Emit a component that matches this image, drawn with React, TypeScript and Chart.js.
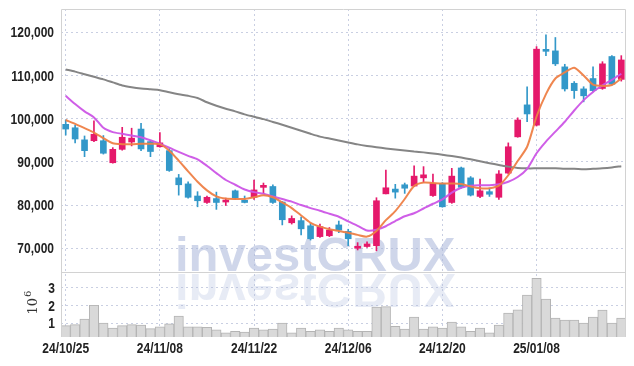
import React, { useEffect, useRef } from 'react';
import { Chart, registerables } from 'chart.js';

Chart.register(...registerables);

// ---- data ----
const dates = [
  '24/10/25', '24/10/28', '24/10/29', '24/10/30', '24/10/31', '24/11/01', '24/11/04', '24/11/05', '24/11/06', '24/11/07',
  '24/11/08', '24/11/11', '24/11/12', '24/11/13', '24/11/14', '24/11/15', '24/11/18', '24/11/19', '24/11/20', '24/11/21',
  '24/11/22', '24/11/25', '24/11/26', '24/11/27', '24/11/28', '24/11/29', '24/12/02', '24/12/03', '24/12/04', '24/12/05',
  '24/12/06', '24/12/09', '24/12/10', '24/12/11', '24/12/12', '24/12/13', '24/12/16', '24/12/17', '24/12/18', '24/12/19',
  '24/12/20', '24/12/23', '24/12/24', '24/12/26', '24/12/27', '24/12/30', '25/01/02', '25/01/03', '25/01/06', '25/01/07',
  '25/01/08', '25/01/09', '25/01/10', '25/01/13', '25/01/14', '25/01/15', '25/01/16', '25/01/17', '25/01/20', '25/01/21',
];

const opens = [
  98700, 97900, 95100, 94900, 94900, 89800, 92900, 94600, 97600, 94700,
  93500, 92600, 86300, 84900, 82100, 80600, 81500, 80700, 83300, 81100,
  81800, 84100, 84300, 80700, 75900, 76400, 75200, 72700, 72900, 75400,
  73900, 70000, 70400, 70600, 82600, 83700, 84700, 84400, 86300, 82200,
  85000, 80600, 88600, 86300, 82000, 83100, 81800, 87400, 95800, 103200,
  98500, 115900, 115700, 112000, 108200, 106900, 109300, 107000, 114400, 109100,
];
const highs = [
  99700, 98500, 96000, 99500, 96100, 93300, 98000, 97800, 98900, 94900,
  96800, 93100, 87100, 85400, 83100, 82100, 83000, 81600, 83500, 82100,
  85800, 85100, 84700, 80800, 77500, 77200, 75800, 75600, 74800, 76300,
  74400, 71300, 71500, 81700, 88100, 84800, 85100, 89100, 88900, 87200,
  85200, 88500, 88800, 86600, 86000, 83900, 88000, 94400, 100200, 107400,
  116700, 119400, 118800, 112600, 108600, 107400, 112000, 113200, 114600, 114600,
];
const lows = [
  96200, 94400, 91200, 94700, 91800, 89700, 92700, 93700, 92600, 91200,
  93400, 87800, 82300, 81600, 79600, 80400, 79000, 79900, 81300, 80500,
  81300, 82700, 80400, 75400, 75600, 73100, 71900, 72500, 72700, 73600,
  70600, 69600, 70200, 69400, 82600, 81600, 82700, 84300, 85200, 82000,
  79500, 80400, 83900, 82100, 81700, 82000, 81300, 87200, 95700, 99300,
  98300, 114600, 112300, 106400, 104700, 103900, 106200, 106800, 107800, 108700,
];
const closes = [
  97600, 95300, 92600, 96400, 92000, 92900, 95700, 95500, 93000, 92400,
  94400, 88000, 84700, 81800, 81000, 81800, 80600, 81100, 81700, 80600,
  83500, 84300, 80600, 76600, 76900, 74500, 72200, 75000, 74200, 74200,
  72200, 70200, 71000, 81000, 84000, 83000, 83900, 86700, 87000, 85000,
  79600, 86700, 84100, 82300, 83300, 82500, 87200, 93500, 99700, 101100,
  116100, 115600, 112700, 106900, 106500, 105300, 106500, 112700, 108000, 113600,
];

const ma5 = [
  99700, 98800, 97800, 96800, 95500, 94300, 94100, 94100, 94200, 94200,
  94100, 92600, 90300, 87800, 85400, 83400, 82000, 81500, 81400, 81400,
  81800, 82300, 81800, 80600, 79300, 77600, 75900, 75000, 74400, 74000,
  73600, 73100, 72700, 74000, 76500, 78600, 81400, 84400, 85200, 85100,
  85000, 85000, 84900, 84300, 83900, 83900, 84500, 86900, 90200, 93500,
  100500, 105700, 109300, 110700, 111800, 110000, 107900, 107600, 107800, 109300,
];
const ma20 = [
  105300, 103400, 101700, 100300, 97900, 96900, 96500, 96100, 95700, 95000,
  94200, 93300, 92300, 91400, 90600, 89100, 87400, 85800, 84700, 83600,
  83000, 82600, 82000, 81400, 80800, 80000, 79300, 78700, 78000, 77300,
  76200, 75200, 74100, 74300, 75100, 76300, 77400, 78100, 79200, 80300,
  81300, 82900, 84000, 84500, 84600, 84600, 84800, 85400, 86500, 88400,
  92000, 94700, 97000, 99300, 101900, 104300, 106200, 107700, 109000, 110400,
];
const ma60 = [
  111400, 110900, 110300, 109700, 109100, 108400, 107700, 107300, 107000, 106800,
  106600, 106100, 105650, 105300, 104800, 103800, 103000, 102300, 101700, 101000,
  100450, 99900, 99250, 98600, 97900, 97200, 96500, 95850, 95400, 94950,
  94500, 94050, 93700, 93400, 93100, 92850, 92650, 92400, 92200, 91950,
  91650, 91350, 91000, 90600, 90150, 89700, 89300, 88900, 88600, 88500,
  88500, 88500, 88500, 88400, 88400, 88300, 88400, 88500, 88700, 89000,
];

// volume in millions (10^6)
const volumes = [
  0.86, 0.92, 1.24, 2.02, 1.01, 0.73, 0.86, 0.92, 0.90, 0.69,
  0.79, 0.97, 1.40, 0.79, 0.79, 0.77, 0.63, 0.45, 0.54, 0.50,
  0.73, 0.62, 0.67, 1.01, 0.45, 0.73, 0.54, 0.62, 0.54, 0.73,
  0.62, 0.54, 0.54, 1.91, 1.94, 0.82, 0.67, 1.35, 0.67, 0.79,
  0.73, 1.07, 0.79, 0.54, 0.73, 0.45, 0.90, 1.57, 1.76, 2.60,
  3.54, 2.36, 1.29, 1.18, 1.18, 1.01, 1.35, 1.74, 1.01, 1.29,
];

const priceTicks = [70000, 80000, 90000, 100000, 110000, 120000];
const volumeTicks = [1, 2, 3];
const labelEvery = 10;
const watermarkText = 'investCRUX';
const volumeUnitBase = '10';
const volumeUnitExp = '6';

// ---- styles ----
const UP = '#e5196b';
const DOWN = '#3398c9';
const GRID = '#c9cfe2';
const FRAME = '#d2d2d2';
const TEXT = '#222222';
const LABEL_FONT = "bold 15px 'Liberation Sans', Arial, sans-serif";
const SQUEEZE = 0.8;

function squeezedText(ctx: CanvasRenderingContext2D, text: string, x: number, y: number, align: CanvasTextAlign) {
  ctx.save();
  ctx.translate(x, y);
  ctx.scale(SQUEEZE, 1);
  ctx.font = LABEL_FONT;
  ctx.fillStyle = TEXT;
  ctx.textAlign = align;
  ctx.textBaseline = 'middle';
  ctx.fillText(text, 0, 0);
  ctx.restore();
}

export default function App() {
  const ref = useRef<HTMLCanvasElement>(null);

  useEffect(() => {
    const canvas = ref.current;
    if (!canvas) return;
    const colors = closes.map((c, i) => (c >= opens[i] ? UP : DOWN));

    const decorations = {
      id: 'decorations',
      beforeDatasetsDraw(chart: any) {
        const ctx = chart.ctx;
        const area = chart.chartArea;
        const base = chart.scales.y.bottom;
        ctx.save();
        ctx.beginPath();
        ctx.rect(area.left, area.top, area.right - area.left, area.bottom - area.top);
        ctx.clip();
        ctx.font = "bold 49px 'Liberation Sans', Arial, sans-serif";
        ctx.textAlign = 'left';
        ctx.textBaseline = 'alphabetic';
        const x = area.left + 114;
        ctx.fillStyle = 'rgba(170,182,218,0.56)';
        ctx.fillText(watermarkText, x, base - 1);
        ctx.translate(0, base * 2 + 1);
        ctx.scale(1, -1);
        ctx.fillStyle = 'rgba(170,182,218,0.28)';
        ctx.fillText(watermarkText, x, base - 1);
        ctx.restore();
      },
      afterDraw(chart: any) {
        const ctx = chart.ctx;
        const area = chart.chartArea;
        const sx = chart.scales.x;
        const sy = chart.scales.y;
        const yv = chart.scales.yv;
        const sep = sy.bottom;
        ctx.save();
        ctx.strokeStyle = FRAME;
        ctx.lineWidth = 1;
        ctx.beginPath();
        ctx.moveTo(area.left + 0.5, area.bottom);
        ctx.lineTo(area.left + 0.5, area.top + 0.5);
        ctx.lineTo(area.right - 0.5, area.top + 0.5);
        ctx.lineTo(area.right - 0.5, area.bottom);
        ctx.moveTo(area.left, Math.round(sep) + 0.5);
        ctx.lineTo(area.right, Math.round(sep) + 0.5);
        ctx.stroke();
        ctx.restore();

        // tick labels
        priceTicks.forEach((v) => {
          squeezedText(ctx, v.toLocaleString('en-US'), area.left - 7, sy.getPixelForValue(v) + 1, 'right');
        });
        volumeTicks.forEach((v) => {
          squeezedText(ctx, String(v), area.left - 6, yv.getPixelForValue(v) + 1, 'right');
        });
        dates.forEach((d, i) => {
          if (i % labelEvery === 0) squeezedText(ctx, d, sx.getPixelForValue(i), area.bottom + 12, 'center');
        });

        // volume unit label (rotated)
        ctx.save();
        const cy = (yv.top + yv.bottom) / 2;
        ctx.translate(area.left - 24, cy + 10);
        ctx.rotate(-Math.PI / 2);
        ctx.fillStyle = '#333';
        ctx.textBaseline = 'alphabetic';
        ctx.textAlign = 'left';
        ctx.font = "13px 'DejaVu Serif', serif";
        ctx.fillText(volumeUnitBase, 0, 0);
        const w = ctx.measureText(volumeUnitBase).width;
        ctx.font = "10px 'DejaVu Serif', serif";
        ctx.fillText(volumeUnitExp, w + 1, -6);
        ctx.restore();
      },
    };

    const chart = new Chart(canvas, {
      type: 'bar',
      data: {
        labels: dates,
        datasets: [
          {
            type: 'line',
            label: 'MA5',
            data: ma5,
            yAxisID: 'y',
            borderColor: 'rgba(238,128,70,0.95)',
            borderWidth: 2,
            pointRadius: 0,
            tension: 0.25,
            order: 0,
          },
          {
            type: 'line',
            label: 'MA20',
            data: ma20,
            yAxisID: 'y',
            borderColor: 'rgba(204,85,230,0.95)',
            borderWidth: 2,
            pointRadius: 0,
            tension: 0.25,
            order: 1,
          },
          {
            type: 'line',
            label: 'MA60',
            data: ma60,
            yAxisID: 'y',
            borderColor: '#858585',
            borderWidth: 2,
            pointRadius: 0,
            tension: 0.25,
            order: 2,
          },
          {
            type: 'bar',
            label: 'body',
            data: opens.map((o, i) => [o, closes[i]]),
            yAxisID: 'y',
            backgroundColor: colors,
            barThickness: 6,
            minBarLength: 2,
            grouped: false,
            order: 3,
          },
          {
            type: 'bar',
            label: 'wick',
            data: lows.map((l, i) => [l, highs[i]]),
            yAxisID: 'y',
            backgroundColor: colors,
            barThickness: 1,
            grouped: false,
            order: 4,
          },
          {
            type: 'bar',
            label: 'volume',
            data: volumes,
            yAxisID: 'yv',
            backgroundColor: '#d9d9d9',
            borderColor: '#b4b4b4',
            borderWidth: 1,
            barPercentage: 1,
            categoryPercentage: 1,
            grouped: false,
            order: 5,
          },
        ] as any,
      },
      options: {
        responsive: false,
        animation: false,
        devicePixelRatio: 1,
        layout: { padding: { top: 9, right: 8, left: 0, bottom: 0 } },
        plugins: { legend: { display: false }, tooltip: { enabled: false } },
        scales: {
          x: {
            type: 'category',
            offset: true,
            grid: {
              offset: false,
              drawTicks: false,
              color: (c: any) => (c.index % labelEvery === 0 ? GRID : 'rgba(0,0,0,0)'),
            },
            border: { display: false, dash: [2, 3] },
            ticks: { display: false, autoSkip: false },
            afterFit: (s: any) => {
              s.height = 29;
            },
          },
          y: {
            type: 'linear',
            position: 'left',
            stack: 'main',
            stackWeight: 263,
            weight: 1,
            min: 64500,
            max: 125400,
            grid: { color: GRID, drawTicks: false },
            border: { display: false, dash: [2, 3] },
            afterBuildTicks: (s: any) => {
              s.ticks = priceTicks.map((v) => ({ value: v }));
            },
            ticks: { display: false, autoSkip: false },
            afterFit: (s: any) => {
              s.width = 61;
            },
          },
          yv: {
            type: 'linear',
            position: 'left',
            stack: 'main',
            stackWeight: 65,
            weight: 0,
            min: 0.22,
            max: 3.9,
            grid: { color: GRID, drawTicks: false },
            border: { display: false, dash: [2, 3] },
            afterBuildTicks: (s: any) => {
              s.ticks = volumeTicks.map((v) => ({ value: v }));
            },
            ticks: { display: false, autoSkip: false },
            afterFit: (s: any) => {
              s.width = 61;
            },
          },
        } as any,
      },
      plugins: [decorations],
    });

    return () => chart.destroy();
  }, []);

  return (
    <div style={{ position: 'fixed', left: 0, top: 0, width: 634, height: 366, background: '#fff' }}>
      <canvas ref={ref} width={634} height={366} style={{ display: 'block', width: 634, height: 366 }} />
    </div>
  );
}
